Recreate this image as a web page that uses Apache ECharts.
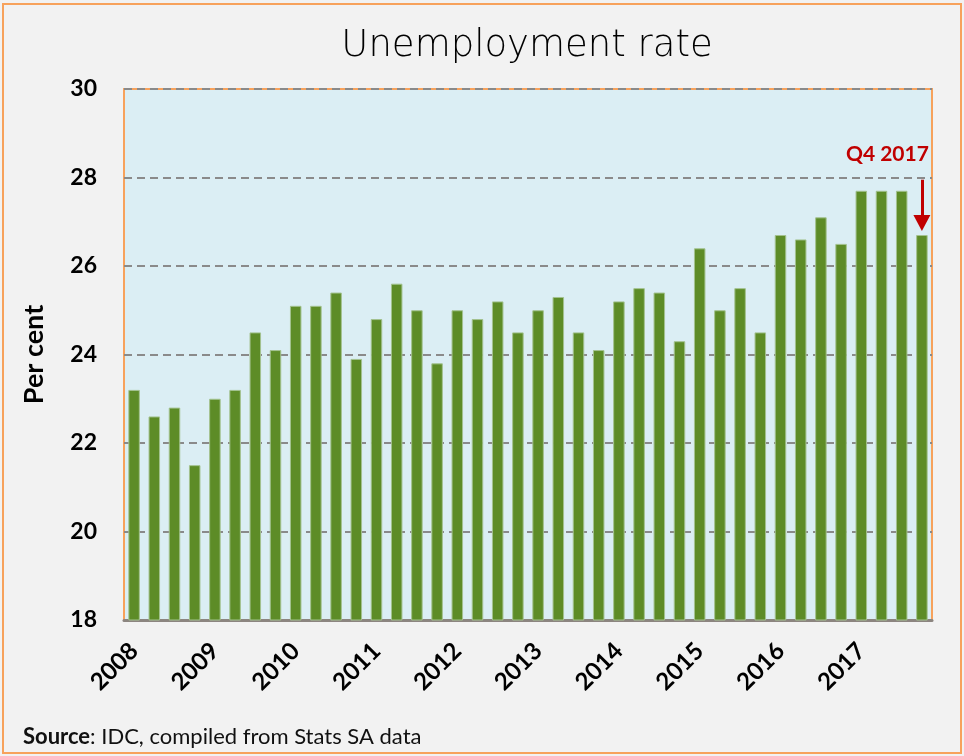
<!DOCTYPE html>
<html>
<head>
<meta charset="utf-8">
<title>Unemployment rate</title>
<script src="https://cdn.jsdelivr.net/npm/echarts@6/dist/echarts.min.js"></script>
<style>
  html, body { margin: 0; padding: 0; background: #f2f2f2; }
  #chart { width: 964px; height: 756px; }
</style>
</head>
<body>
<div id="chart"></div>
<script>
// Quarterly unemployment rate, per cent, 2008 Q1 – 2017 Q4
const years = ['2008', '2009', '2010', '2011', '2012', '2013', '2014', '2015', '2016', '2017'];
const quarters = ['Q1', 'Q2', 'Q3', 'Q4'];
const categories = years.flatMap(y => quarters.map(q => y + ' ' + q));

const rate2008 = [23.2, 22.6, 22.8, 21.5];
const rate2009 = [23.0, 23.2, 24.5, 24.1];
const rate2010 = [25.1, 25.1, 25.4, 23.9];
const rate2011 = [24.8, 25.6, 25.0, 23.8];
const rate2012 = [25.0, 24.8, 25.2, 24.5];
const rate2013 = [25.0, 25.3, 24.5, 24.1];
const rate2014 = [25.2, 25.5, 25.4, 24.3];
const rate2015 = [26.4, 25.0, 25.5, 24.5];
const rate2016 = [26.7, 26.6, 27.1, 26.5];
const rate2017 = [27.7, 27.7, 27.7, 26.7];
const unemployment = [].concat(rate2008, rate2009, rate2010, rate2011, rate2012,
  rate2013, rate2014, rate2015, rate2016, rate2017);

const yMin = 18, yMax = 30, yStep = 2;

// Callout for the latest quarter
const calloutText = 'Q4 2017';
const calloutCategory = categories[categories.length - 1];
const calloutLabelLevel = 28.53;
const arrowFrom = 27.95;
const arrowTo = 26.97;

const font = 'Lato, "Open Sans", sans-serif';

const chart = echarts.init(document.getElementById('chart'), null, { renderer: 'canvas' });

chart.setOption({
  backgroundColor: '#f2f2f2',
  animation: false,
  title: {
    text: 'Unemployment rate',
    left: 522,
    top: 23,
    textAlign: 'center',
    textStyle: {
      fontFamily: '"DejaVu Sans", sans-serif',
      fontWeight: 200,
      fontSize: 37,
      color: '#000'
    }
  },
  graphic: [
    {
      type: 'rect',
      z: -10,
      shape: { x: 3, y: 4, width: 958, height: 749 },
      style: { fill: 'none', stroke: '#f7a25c', lineWidth: 2 },
      silent: true
    },
    {
      type: 'text',
      left: 23,
      top: 726,
      style: {
        text: '{b|Source}: IDC, compiled from Stats SA data',
        font: '22px ' + font,
        fill: '#111',
        rich: {
          b: { fontWeight: 'bold', fontSize: 22, fontFamily: 'Lato, sans-serif', fill: '#111' }
        }
      }
    }
  ],
  grid: {
    left: 124,
    right: 32,
    top: 89,
    bottom: 136,
    show: true,
    backgroundColor: '#dbeef4',
    borderColor: '#f7a25c',
    borderWidth: 2
  },
  xAxis: {
    type: 'category',
    data: categories,
    boundaryGap: true,
    axisLine: { show: true, lineStyle: { color: '#8c8580', width: 3 } },
    axisTick: { show: false },
    splitLine: { show: false },
    axisLabel: {
      interval: 3,
      rotate: 45,
      margin: 27,
      formatter: v => v.slice(0, 4),
      fontFamily: font,
      fontWeight: 'bold',
      fontSize: 24,
      color: '#000'
    }
  },
  yAxis: {
    type: 'value',
    min: yMin,
    max: yMax,
    interval: yStep,
    name: 'Per cent',
    nameLocation: 'middle',
    nameGap: 76,
    nameRotate: 90,
    nameTextStyle: {
      fontFamily: font,
      fontWeight: 'bold',
      fontSize: 27,
      color: '#000'
    },
    axisLine: { show: false },
    axisTick: { show: false },
    axisLabel: {
      margin: 27,
      fontFamily: font,
      fontWeight: 'bold',
      fontSize: 23,
      color: '#000'
    },
    splitLine: {
      show: true,
      lineStyle: { color: '#8a8a8a', width: 2, type: [8, 5] }
    }
  },
  series: [
    {
      type: 'bar',
      data: unemployment,
      barCategoryGap: '43%',
      itemStyle: {
        color: '#5d8c27',
        borderColor: '#a3c28f',
        borderWidth: 1
      },
      markLine: {
        silent: true,
        symbol: ['none', 'triangle'],
        symbolSize: [17, 16],
        label: { show: false },
        lineStyle: { color: '#c00000', width: 3, type: 'solid' },
        data: [
          [
            { coord: [calloutCategory, arrowFrom] },
            { coord: [calloutCategory, arrowTo] }
          ]
        ]
      },
      markPoint: {
        silent: true,
        symbol: 'circle',
        symbolSize: 0,
        data: [
          {
            coord: [calloutCategory, calloutLabelLevel],
            label: {
              show: true,
              formatter: calloutText,
              position: 'left',
              distance: 0,
              offset: [7, 0],
              fontFamily: font,
              fontWeight: 'bold',
              fontSize: 21,
              color: '#c00000'
            }
          }
        ]
      }
    }
  ]
});
</script>
</body>
</html>
